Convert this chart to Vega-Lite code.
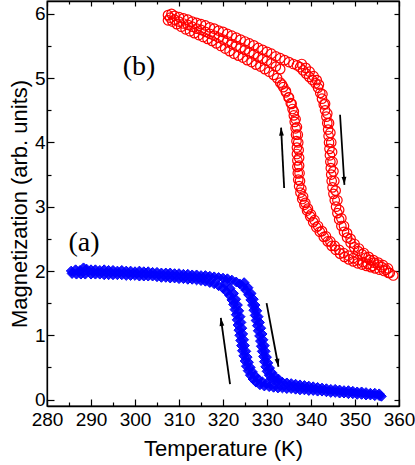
{
  "$schema": "https://vega.github.io/schema/vega-lite/v6.json",
  "width": 352,
  "height": 405,
  "autosize": "none",
  "padding": {"left": 47, "top": 1, "right": 16, "bottom": 59},
  "background": "white",
  "config": {
    "view": {"stroke": "black", "strokeWidth": 1.3},
    "axis": {
      "grid": false,
      "domainColor": "black",
      "domainWidth": 1.3,
      "tickColor": "black",
      "tickWidth": 1.2,
      "labelColor": "black",
      "labelFont": "Liberation Sans",
      "labelFontSize": 19,
      "titleFont": "Liberation Sans",
      "titleFontSize": 22,
      "titleFontWeight": "normal",
      "titleColor": "black",
      "labelFlush": false,
      "labelOverlap": false,
      "labelBound": false
    }
  },
  "datasets": {
    "blue": [
      {"branch":"heating","T":285.5,"M":2.00},{"branch":"heating","T":286.5,"M":2.02},{"branch":"heating","T":287.5,"M":2.01},{"branch":"heating","T":288.3,"M":2.05},{"branch":"heating","T":289.0,"M":2.03},
      {"branch":"heating","T":290,"M":2.02},{"branch":"heating","T":291,"M":2.02},{"branch":"heating","T":292,"M":2.01},{"branch":"heating","T":293,"M":2.02},{"branch":"heating","T":294,"M":2.01},
      {"branch":"heating","T":295,"M":2.01},{"branch":"heating","T":296,"M":2.00},{"branch":"heating","T":297,"M":2.01},{"branch":"heating","T":298,"M":2.00},{"branch":"heating","T":299,"M":2.00},
      {"branch":"heating","T":300,"M":1.99},{"branch":"heating","T":301,"M":2.00},{"branch":"heating","T":302,"M":1.99},{"branch":"heating","T":303,"M":1.99},{"branch":"heating","T":304,"M":1.98},
      {"branch":"heating","T":305,"M":1.98},{"branch":"heating","T":306,"M":1.97},{"branch":"heating","T":307,"M":1.97},{"branch":"heating","T":308,"M":1.97},{"branch":"heating","T":309,"M":1.96},
      {"branch":"heating","T":310,"M":1.96},{"branch":"heating","T":311,"M":1.95},{"branch":"heating","T":312,"M":1.95},{"branch":"heating","T":313,"M":1.94},{"branch":"heating","T":314,"M":1.94},
      {"branch":"heating","T":315,"M":1.93},{"branch":"heating","T":316,"M":1.93},{"branch":"heating","T":317,"M":1.92},{"branch":"heating","T":318,"M":1.91},{"branch":"heating","T":319,"M":1.90},
      {"branch":"heating","T":320,"M":1.89},{"branch":"heating","T":321,"M":1.88},{"branch":"heating","T":322,"M":1.86},{"branch":"heating","T":323,"M":1.83},{"branch":"heating","T":323.8,"M":1.80},
      {"branch":"heating","T":324.5,"M":1.76},{"branch":"heating","T":325.2,"M":1.70},{"branch":"heating","T":325.8,"M":1.63},{"branch":"heating","T":326.3,"M":1.55},{"branch":"heating","T":326.7,"M":1.47},
      {"branch":"heating","T":327.0,"M":1.39},{"branch":"heating","T":327.3,"M":1.31},{"branch":"heating","T":327.5,"M":1.23},{"branch":"heating","T":327.8,"M":1.15},{"branch":"heating","T":328.0,"M":1.07},
      {"branch":"heating","T":328.3,"M":0.99},{"branch":"heating","T":328.5,"M":0.91},{"branch":"heating","T":328.7,"M":0.83},{"branch":"heating","T":328.9,"M":0.75},{"branch":"heating","T":329.2,"M":0.67},
      {"branch":"heating","T":329.4,"M":0.59},{"branch":"heating","T":329.7,"M":0.51},{"branch":"heating","T":330.0,"M":0.44},{"branch":"heating","T":330.5,"M":0.38},{"branch":"heating","T":331.0,"M":0.33},
      {"branch":"heating","T":331.7,"M":0.30},{"branch":"heating","T":332.5,"M":0.28},{"branch":"heating","T":333.5,"M":0.27},{"branch":"heating","T":334.5,"M":0.26},{"branch":"heating","T":335.5,"M":0.25},
      {"branch":"heating","T":336.5,"M":0.24},{"branch":"heating","T":337.5,"M":0.23},{"branch":"heating","T":338.5,"M":0.22},{"branch":"heating","T":339.5,"M":0.21},{"branch":"heating","T":340.5,"M":0.20},
      {"branch":"heating","T":341.5,"M":0.19},{"branch":"heating","T":342.5,"M":0.18},{"branch":"heating","T":343.5,"M":0.17},{"branch":"heating","T":344.5,"M":0.16},{"branch":"heating","T":345.5,"M":0.16},
      {"branch":"heating","T":346.5,"M":0.15},{"branch":"heating","T":347.5,"M":0.14},{"branch":"heating","T":348.5,"M":0.14},{"branch":"heating","T":349.5,"M":0.13},{"branch":"heating","T":350.5,"M":0.12},
      {"branch":"heating","T":351.5,"M":0.12},{"branch":"heating","T":352.5,"M":0.11},{"branch":"heating","T":353.5,"M":0.10},{"branch":"heating","T":354.5,"M":0.10},{"branch":"heating","T":355.5,"M":0.09},
      {"branch":"heating","T":324.8,"M":1.82},{"branch":"heating","T":325.7,"M":1.74},{"branch":"heating","T":326.4,"M":1.65},{"branch":"heating","T":326.9,"M":1.56},{"branch":"heating","T":327.3,"M":1.47},
      {"branch":"heating","T":327.7,"M":1.38},{"branch":"heating","T":328.0,"M":1.29},{"branch":"heating","T":328.3,"M":1.20},{"branch":"heating","T":328.6,"M":1.11},{"branch":"heating","T":328.9,"M":1.02},
      {"branch":"heating","T":329.1,"M":0.93},{"branch":"heating","T":329.4,"M":0.84},{"branch":"heating","T":329.6,"M":0.75},{"branch":"heating","T":329.9,"M":0.66},{"branch":"heating","T":330.2,"M":0.57},
      {"branch":"heating","T":330.6,"M":0.49},{"branch":"heating","T":331.1,"M":0.42},{"branch":"heating","T":331.8,"M":0.36},{"branch":"heating","T":332.6,"M":0.32},
      {"branch":"cooling","T":285.7,"M":1.96},{"branch":"cooling","T":286.7,"M":1.95},{"branch":"cooling","T":287.7,"M":1.95},{"branch":"cooling","T":288.7,"M":1.95},{"branch":"cooling","T":290,"M":1.95},
      {"branch":"cooling","T":291,"M":1.95},{"branch":"cooling","T":292,"M":1.95},{"branch":"cooling","T":293,"M":1.94},{"branch":"cooling","T":294,"M":1.94},{"branch":"cooling","T":295,"M":1.94},
      {"branch":"cooling","T":296,"M":1.94},{"branch":"cooling","T":297,"M":1.94},{"branch":"cooling","T":298,"M":1.93},{"branch":"cooling","T":299,"M":1.93},{"branch":"cooling","T":300,"M":1.93},
      {"branch":"cooling","T":301,"M":1.92},{"branch":"cooling","T":302,"M":1.92},{"branch":"cooling","T":303,"M":1.92},{"branch":"cooling","T":304,"M":1.92},{"branch":"cooling","T":305,"M":1.91},
      {"branch":"cooling","T":306,"M":1.90},{"branch":"cooling","T":307,"M":1.90},{"branch":"cooling","T":308,"M":1.89},{"branch":"cooling","T":309,"M":1.89},{"branch":"cooling","T":310,"M":1.88},
      {"branch":"cooling","T":311,"M":1.88},{"branch":"cooling","T":312,"M":1.87},{"branch":"cooling","T":313,"M":1.87},{"branch":"cooling","T":314,"M":1.86},{"branch":"cooling","T":315,"M":1.85},
      {"branch":"cooling","T":316,"M":1.84},{"branch":"cooling","T":317,"M":1.82},{"branch":"cooling","T":318,"M":1.80},{"branch":"cooling","T":319,"M":1.77},{"branch":"cooling","T":320,"M":1.73},
      {"branch":"cooling","T":320.8,"M":1.68},{"branch":"cooling","T":321.5,"M":1.62},{"branch":"cooling","T":322.0,"M":1.55},{"branch":"cooling","T":322.4,"M":1.48},{"branch":"cooling","T":322.7,"M":1.40},
      {"branch":"cooling","T":323.0,"M":1.32},{"branch":"cooling","T":323.2,"M":1.24},{"branch":"cooling","T":323.4,"M":1.16},{"branch":"cooling","T":323.6,"M":1.08},{"branch":"cooling","T":323.8,"M":1.00},
      {"branch":"cooling","T":324.0,"M":0.92},{"branch":"cooling","T":324.2,"M":0.84},{"branch":"cooling","T":324.4,"M":0.76},{"branch":"cooling","T":324.7,"M":0.68},{"branch":"cooling","T":325.0,"M":0.60},
      {"branch":"cooling","T":325.3,"M":0.52},{"branch":"cooling","T":325.7,"M":0.45},{"branch":"cooling","T":326.2,"M":0.38},{"branch":"cooling","T":326.8,"M":0.32},{"branch":"cooling","T":327.5,"M":0.27},
      {"branch":"cooling","T":328.4,"M":0.23},{"branch":"cooling","T":329.4,"M":0.21},{"branch":"cooling","T":330.5,"M":0.20},{"branch":"cooling","T":331.5,"M":0.19},{"branch":"cooling","T":332.5,"M":0.18},
      {"branch":"cooling","T":333.5,"M":0.18},{"branch":"cooling","T":334.5,"M":0.17},{"branch":"cooling","T":335.5,"M":0.17},{"branch":"cooling","T":336.5,"M":0.16},{"branch":"cooling","T":337.5,"M":0.15},
      {"branch":"cooling","T":338.5,"M":0.15},{"branch":"cooling","T":339.5,"M":0.14},{"branch":"cooling","T":340.5,"M":0.14},{"branch":"cooling","T":341.5,"M":0.13},{"branch":"cooling","T":342.5,"M":0.13},
      {"branch":"cooling","T":343.5,"M":0.12},{"branch":"cooling","T":344.5,"M":0.11},{"branch":"cooling","T":345.5,"M":0.11},{"branch":"cooling","T":346.5,"M":0.10},{"branch":"cooling","T":347.5,"M":0.10},
      {"branch":"cooling","T":348.5,"M":0.09},{"branch":"cooling","T":349.5,"M":0.09},{"branch":"cooling","T":350.5,"M":0.08},{"branch":"cooling","T":351.5,"M":0.08},{"branch":"cooling","T":352.5,"M":0.07},
      {"branch":"cooling","T":353.5,"M":0.07},{"branch":"cooling","T":354.5,"M":0.06},{"branch":"cooling","T":355.5,"M":0.06},{"branch":"cooling","T":356.0,"M":0.05},
      {"branch":"cooling","T":320.5,"M":1.80},{"branch":"cooling","T":321.6,"M":1.73},{"branch":"cooling","T":322.4,"M":1.65},{"branch":"cooling","T":322.9,"M":1.56},{"branch":"cooling","T":323.3,"M":1.47},
      {"branch":"cooling","T":323.6,"M":1.38},{"branch":"cooling","T":323.9,"M":1.29},{"branch":"cooling","T":324.1,"M":1.20},{"branch":"cooling","T":324.3,"M":1.11},{"branch":"cooling","T":324.5,"M":1.02},
      {"branch":"cooling","T":324.7,"M":0.93},{"branch":"cooling","T":324.9,"M":0.84},{"branch":"cooling","T":325.2,"M":0.75},{"branch":"cooling","T":325.5,"M":0.66},{"branch":"cooling","T":325.8,"M":0.58},
      {"branch":"cooling","T":326.2,"M":0.50},{"branch":"cooling","T":326.7,"M":0.43},{"branch":"cooling","T":327.3,"M":0.37},{"branch":"cooling","T":328.0,"M":0.32},{"branch":"cooling","T":328.9,"M":0.28},
      {"branch":"cooling","T":329.9,"M":0.25}
    ],
    "red": [
      {"branch":"cooling","T":307.5,"M":5.90},{"branch":"cooling","T":308.5,"M":5.88},{"branch":"cooling","T":309.5,"M":5.84},{"branch":"cooling","T":310.5,"M":5.80},{"branch":"cooling","T":311.5,"M":5.76},
      {"branch":"cooling","T":312.5,"M":5.73},{"branch":"cooling","T":313.5,"M":5.70},{"branch":"cooling","T":314.5,"M":5.67},{"branch":"cooling","T":315.5,"M":5.64},{"branch":"cooling","T":316.5,"M":5.61},
      {"branch":"cooling","T":317.5,"M":5.58},{"branch":"cooling","T":318.5,"M":5.54},{"branch":"cooling","T":319.5,"M":5.50},{"branch":"cooling","T":320.5,"M":5.46},{"branch":"cooling","T":321.5,"M":5.42},
      {"branch":"cooling","T":322.5,"M":5.38},{"branch":"cooling","T":323.5,"M":5.35},{"branch":"cooling","T":324.5,"M":5.32},{"branch":"cooling","T":325.5,"M":5.28},{"branch":"cooling","T":326.5,"M":5.25},
      {"branch":"cooling","T":327.5,"M":5.21},{"branch":"cooling","T":328.5,"M":5.18},{"branch":"cooling","T":329.5,"M":5.14},{"branch":"cooling","T":330.5,"M":5.10},{"branch":"cooling","T":331.5,"M":5.05},
      {"branch":"cooling","T":332.3,"M":5.00},{"branch":"cooling","T":333.0,"M":4.93},{"branch":"cooling","T":333.7,"M":4.86},{"branch":"cooling","T":334.3,"M":4.78},{"branch":"cooling","T":334.9,"M":4.70},
      {"branch":"cooling","T":335.4,"M":4.61},{"branch":"cooling","T":335.8,"M":4.52},{"branch":"cooling","T":336.1,"M":4.42},{"branch":"cooling","T":336.3,"M":4.32},{"branch":"cooling","T":336.5,"M":4.22},
      {"branch":"cooling","T":336.6,"M":4.12},{"branch":"cooling","T":336.7,"M":4.02},{"branch":"cooling","T":336.8,"M":3.92},{"branch":"cooling","T":336.8,"M":3.82},{"branch":"cooling","T":336.9,"M":3.72},
      {"branch":"cooling","T":336.9,"M":3.62},{"branch":"cooling","T":337.0,"M":3.52},{"branch":"cooling","T":337.1,"M":3.42},{"branch":"cooling","T":337.3,"M":3.32},{"branch":"cooling","T":337.6,"M":3.22},
      {"branch":"cooling","T":338.0,"M":3.12},{"branch":"cooling","T":338.5,"M":3.03},{"branch":"cooling","T":339.1,"M":2.94},{"branch":"cooling","T":339.8,"M":2.85},{"branch":"cooling","T":340.5,"M":2.76},
      {"branch":"cooling","T":341.2,"M":2.68},{"branch":"cooling","T":342.0,"M":2.61},{"branch":"cooling","T":342.9,"M":2.53},{"branch":"cooling","T":343.8,"M":2.46},{"branch":"cooling","T":344.7,"M":2.39},
      {"branch":"cooling","T":345.6,"M":2.33},{"branch":"cooling","T":346.6,"M":2.27},{"branch":"cooling","T":347.6,"M":2.22},{"branch":"cooling","T":348.6,"M":2.18},{"branch":"cooling","T":349.6,"M":2.15},
      {"branch":"cooling","T":350.6,"M":2.12},{"branch":"cooling","T":351.6,"M":2.10},{"branch":"cooling","T":352.6,"M":2.08},{"branch":"cooling","T":353.6,"M":2.06},{"branch":"cooling","T":354.6,"M":2.04},
      {"branch":"cooling","T":355.6,"M":2.02},{"branch":"cooling","T":356.6,"M":2.00},{"branch":"cooling","T":357.6,"M":1.97},
      {"branch":"cooling","T":333.4,"M":4.90},{"branch":"cooling","T":334.3,"M":4.80},{"branch":"cooling","T":335.0,"M":4.70},{"branch":"cooling","T":335.6,"M":4.60},{"branch":"cooling","T":336.1,"M":4.48},
      {"branch":"cooling","T":336.5,"M":4.36},{"branch":"cooling","T":336.8,"M":4.24},{"branch":"cooling","T":337.0,"M":4.12},{"branch":"cooling","T":337.1,"M":4.00},{"branch":"cooling","T":337.2,"M":3.88},
      {"branch":"cooling","T":337.3,"M":3.76},{"branch":"cooling","T":337.3,"M":3.64},{"branch":"cooling","T":337.4,"M":3.52},{"branch":"cooling","T":337.5,"M":3.40},{"branch":"cooling","T":337.8,"M":3.28},
      {"branch":"cooling","T":338.2,"M":3.16},{"branch":"cooling","T":338.7,"M":3.06},{"branch":"cooling","T":339.3,"M":2.97},{"branch":"cooling","T":340.0,"M":2.88},{"branch":"cooling","T":340.8,"M":2.79},
      {"branch":"cooling","T":341.6,"M":2.70},{"branch":"cooling","T":342.5,"M":2.62},{"branch":"cooling","T":343.4,"M":2.54},{"branch":"cooling","T":344.4,"M":2.46},{"branch":"cooling","T":345.4,"M":2.39},
      {"branch":"cooling","T":346.4,"M":2.33},{"branch":"cooling","T":347.4,"M":2.28},{"branch":"cooling","T":348.5,"M":2.24},{"branch":"cooling","T":349.6,"M":2.20},{"branch":"cooling","T":350.7,"M":2.17},
      {"branch":"cooling","T":351.8,"M":2.14},{"branch":"cooling","T":352.9,"M":2.11},{"branch":"cooling","T":354.0,"M":2.08},
      {"branch":"heating","T":308,"M":5.94},{"branch":"heating","T":309,"M":5.91},{"branch":"heating","T":310,"M":5.88},{"branch":"heating","T":311,"M":5.85},{"branch":"heating","T":312,"M":5.83},
      {"branch":"heating","T":313,"M":5.80},{"branch":"heating","T":314,"M":5.77},{"branch":"heating","T":315,"M":5.75},{"branch":"heating","T":316,"M":5.72},{"branch":"heating","T":317,"M":5.69},
      {"branch":"heating","T":318,"M":5.66},{"branch":"heating","T":319,"M":5.63},{"branch":"heating","T":320,"M":5.60},{"branch":"heating","T":321,"M":5.57},{"branch":"heating","T":322,"M":5.53},
      {"branch":"heating","T":323,"M":5.50},{"branch":"heating","T":324,"M":5.47},{"branch":"heating","T":325,"M":5.44},{"branch":"heating","T":326,"M":5.40},{"branch":"heating","T":327,"M":5.37},
      {"branch":"heating","T":328,"M":5.33},{"branch":"heating","T":329,"M":5.30},{"branch":"heating","T":330,"M":5.27},{"branch":"heating","T":331,"M":5.23},{"branch":"heating","T":332,"M":5.18},
      {"branch":"heating","T":333,"M":5.14},
      {"branch":"heating","T":307.5,"M":5.98},{"branch":"heating","T":308.3,"M":6.00},{"branch":"heating","T":309,"M":5.97},{"branch":"heating","T":310,"M":5.95},{"branch":"heating","T":311,"M":5.93},
      {"branch":"heating","T":312,"M":5.91},{"branch":"heating","T":313,"M":5.88},{"branch":"heating","T":314,"M":5.86},{"branch":"heating","T":315,"M":5.84},{"branch":"heating","T":316,"M":5.82},
      {"branch":"heating","T":317,"M":5.79},{"branch":"heating","T":318,"M":5.77},{"branch":"heating","T":319,"M":5.74},{"branch":"heating","T":320,"M":5.72},{"branch":"heating","T":321,"M":5.69},
      {"branch":"heating","T":322,"M":5.66},{"branch":"heating","T":323,"M":5.63},{"branch":"heating","T":324,"M":5.60},{"branch":"heating","T":325,"M":5.57},{"branch":"heating","T":326,"M":5.54},
      {"branch":"heating","T":327,"M":5.51},{"branch":"heating","T":328,"M":5.47},{"branch":"heating","T":329,"M":5.44},{"branch":"heating","T":330,"M":5.41},{"branch":"heating","T":331,"M":5.38},
      {"branch":"heating","T":332,"M":5.34},{"branch":"heating","T":333,"M":5.31},{"branch":"heating","T":334,"M":5.28},{"branch":"heating","T":335,"M":5.25},{"branch":"heating","T":336,"M":5.22},
      {"branch":"heating","T":336.8,"M":5.20},{"branch":"heating","T":337.5,"M":5.17},{"branch":"heating","T":338.2,"M":5.12},{"branch":"heating","T":338.9,"M":5.07},{"branch":"heating","T":339.6,"M":5.02},
      {"branch":"heating","T":340.3,"M":4.97},{"branch":"heating","T":341.0,"M":4.92},{"branch":"heating","T":341.6,"M":4.85},{"branch":"heating","T":342.1,"M":4.77},{"branch":"heating","T":342.5,"M":4.68},
      {"branch":"heating","T":342.9,"M":4.59},{"branch":"heating","T":343.2,"M":4.50},{"branch":"heating","T":343.5,"M":4.40},{"branch":"heating","T":343.7,"M":4.30},{"branch":"heating","T":343.9,"M":4.20},
      {"branch":"heating","T":344.0,"M":4.10},{"branch":"heating","T":344.1,"M":4.00},{"branch":"heating","T":344.2,"M":3.90},{"branch":"heating","T":344.3,"M":3.80},{"branch":"heating","T":344.4,"M":3.70},
      {"branch":"heating","T":344.5,"M":3.60},{"branch":"heating","T":344.6,"M":3.50},{"branch":"heating","T":344.7,"M":3.40},{"branch":"heating","T":344.9,"M":3.30},{"branch":"heating","T":345.1,"M":3.20},
      {"branch":"heating","T":345.4,"M":3.10},{"branch":"heating","T":345.7,"M":3.00},{"branch":"heating","T":346.0,"M":2.90},{"branch":"heating","T":346.4,"M":2.80},{"branch":"heating","T":346.9,"M":2.70},
      {"branch":"heating","T":347.5,"M":2.61},{"branch":"heating","T":348.2,"M":2.52},{"branch":"heating","T":349.0,"M":2.44},{"branch":"heating","T":349.8,"M":2.37},{"branch":"heating","T":350.7,"M":2.31},
      {"branch":"heating","T":351.6,"M":2.26},{"branch":"heating","T":352.5,"M":2.21},{"branch":"heating","T":353.4,"M":2.17},{"branch":"heating","T":354.3,"M":2.13},{"branch":"heating","T":355.2,"M":2.10},
      {"branch":"heating","T":356.1,"M":2.06},{"branch":"heating","T":357.0,"M":2.02},{"branch":"heating","T":357.9,"M":1.97},{"branch":"heating","T":358.7,"M":1.93},
      {"branch":"heating","T":337.9,"M":5.22},{"branch":"heating","T":338.8,"M":5.16},{"branch":"heating","T":339.7,"M":5.10},
      {"branch":"heating","T":340.6,"M":5.03},{"branch":"heating","T":341.3,"M":4.97},
      {"branch":"heating","T":341.8,"M":4.90},{"branch":"heating","T":342.6,"M":4.75},{"branch":"heating","T":343.2,"M":4.60},{"branch":"heating","T":343.7,"M":4.45},{"branch":"heating","T":344.1,"M":4.30},
      {"branch":"heating","T":344.4,"M":4.15},{"branch":"heating","T":344.6,"M":4.00},{"branch":"heating","T":344.8,"M":3.85},{"branch":"heating","T":344.9,"M":3.70},{"branch":"heating","T":345.1,"M":3.55},
      {"branch":"heating","T":345.3,"M":3.40},{"branch":"heating","T":345.6,"M":3.25},{"branch":"heating","T":346.0,"M":3.10},{"branch":"heating","T":346.4,"M":2.95},{"branch":"heating","T":346.9,"M":2.82},
      {"branch":"heating","T":347.5,"M":2.70},{"branch":"heating","T":348.2,"M":2.59},{"branch":"heating","T":349.0,"M":2.50},{"branch":"heating","T":349.9,"M":2.42},{"branch":"heating","T":350.9,"M":2.35},
      {"branch":"heating","T":352.0,"M":2.28},{"branch":"heating","T":353.1,"M":2.22},{"branch":"heating","T":354.2,"M":2.17},{"branch":"heating","T":355.3,"M":2.13},{"branch":"heating","T":356.4,"M":2.09},
      {"branch":"heating","T":357.5,"M":2.04}
    ],
    "arrows": [
      {"id":"b_up","T1":333.9,"M1":3.29,"T2":333.2,"M2":4.23},
      {"id":"b_down","T1":346.6,"M1":4.43,"T2":347.6,"M2":3.34},
      {"id":"a_up","T1":321.6,"M1":0.24,"T2":319.5,"M2":1.27},
      {"id":"a_down","T1":329.9,"M1":1.50,"T2":332.6,"M2":0.51}
    ],
    "labels": [
      {"text":"(a)","T":288.4,"M":2.44},
      {"text":"(b)","T":300.9,"M":5.17}
    ]
  },
  "layer": [
    {
      "data": {"name": "blue"},
      "mark": {"type": "point", "shape": "diamond", "size": 95, "filled": true, "fill": "#0000ff", "fillOpacity": 0.9, "stroke": "#0000ff", "strokeWidth": 1, "opacity": 1},
      "encoding": {
        "x": {"field": "T", "type": "quantitative", "scale": {"domain": [280, 360], "nice": false, "zero": false},
          "axis": {"orient": "bottom", "values": [280,285,290,295,300,305,310,315,320,325,330,335,340,345,350,355,360],
            "labelExpr": "datum.value % 10 === 0 ? '' + datum.value : ''",
            "tickSize": {"condition": {"test": "datum.value % 10 !== 0", "value": -4}, "value": -7},
            "labelPadding": 11, "title": "Temperature (K)", "titlePadding": 6}},
        "y": {"field": "M", "type": "quantitative", "scale": {"domain": [-0.1, 6.2], "nice": false, "zero": false},
          "axis": {"orient": "left", "values": [0,0.5,1,1.5,2,2.5,3,3.5,4,4.5,5,5.5,6],
            "labelExpr": "datum.value % 1 === 0 ? '' + datum.value : ''",
            "tickSize": {"condition": {"test": "datum.value % 1 !== 0", "value": -4}, "value": -7},
            "labelPadding": 9, "title": "Magnetization (arb. units)", "titlePadding": 3}}
      }
    },
    {
      "data": {"name": "red"},
      "mark": {"type": "point", "shape": "circle", "size": 90, "filled": false, "stroke": "#ff0000", "strokeWidth": 1.2, "opacity": 1},
      "encoding": {
        "x": {"field": "T", "type": "quantitative", "scale": {"domain": [280, 360], "nice": false, "zero": false},
          "axis": {"orient": "top", "values": [280,285,290,295,300,305,310,315,320,325,330,335,340,345,350,355,360],
            "labels": false, "title": null,
            "tickSize": {"condition": {"test": "datum.value % 10 !== 0", "value": -3}, "value": -5}}},
        "y": {"field": "M", "type": "quantitative", "scale": {"domain": [-0.1, 6.2], "nice": false, "zero": false},
          "axis": {"orient": "right", "values": [0,0.5,1,1.5,2,2.5,3,3.5,4,4.5,5,5.5,6],
            "labels": false, "title": null,
            "tickSize": {"condition": {"test": "datum.value % 1 !== 0", "value": -3}, "value": -5}}}
      }
    },
    {
      "data": {"name": "arrows"},
      "mark": {"type": "rule", "color": "black", "strokeWidth": 1.8},
      "encoding": {
        "x": {"field": "T1", "type": "quantitative", "axis": null},
        "y": {"field": "M1", "type": "quantitative", "axis": null},
        "x2": {"field": "T2"},
        "y2": {"field": "M2"}
      }
    },
    {
      "data": {"name": "arrows"},
      "transform": [{"filter": "datum.id === 'b_up'"}],
      "mark": {"type": "point", "shape": "M0,0L0.6,2L-0.6,2Z", "size": 64, "filled": true, "color": "black", "opacity": 1, "angle": -3},
      "encoding": {"x": {"field": "T2", "type": "quantitative", "axis": null}, "y": {"field": "M2", "type": "quantitative", "axis": null}}
    },
    {
      "data": {"name": "arrows"},
      "transform": [{"filter": "datum.id === 'b_down'"}],
      "mark": {"type": "point", "shape": "M0,0L0.6,2L-0.6,2Z", "size": 64, "filled": true, "color": "black", "opacity": 1, "angle": 176.5},
      "encoding": {"x": {"field": "T2", "type": "quantitative", "axis": null}, "y": {"field": "M2", "type": "quantitative", "axis": null}}
    },
    {
      "data": {"name": "arrows"},
      "transform": [{"filter": "datum.id === 'a_up'"}],
      "mark": {"type": "point", "shape": "M0,0L0.6,2L-0.6,2Z", "size": 64, "filled": true, "color": "black", "opacity": 1, "angle": -8},
      "encoding": {"x": {"field": "T2", "type": "quantitative", "axis": null}, "y": {"field": "M2", "type": "quantitative", "axis": null}}
    },
    {
      "data": {"name": "arrows"},
      "transform": [{"filter": "datum.id === 'a_down'"}],
      "mark": {"type": "point", "shape": "M0,0L0.6,2L-0.6,2Z", "size": 64, "filled": true, "color": "black", "opacity": 1, "angle": 169.7},
      "encoding": {"x": {"field": "T2", "type": "quantitative", "axis": null}, "y": {"field": "M2", "type": "quantitative", "axis": null}}
    },
    {
      "data": {"name": "labels"},
      "mark": {"type": "text", "font": "Liberation Serif", "fontSize": 28, "color": "black", "align": "center", "baseline": "middle"},
      "encoding": {
        "x": {"field": "T", "type": "quantitative", "axis": null},
        "y": {"field": "M", "type": "quantitative", "axis": null},
        "text": {"field": "text"}
      }
    }
  ],
  "resolve": {"axis": {"x": "independent", "y": "independent"}}
}
